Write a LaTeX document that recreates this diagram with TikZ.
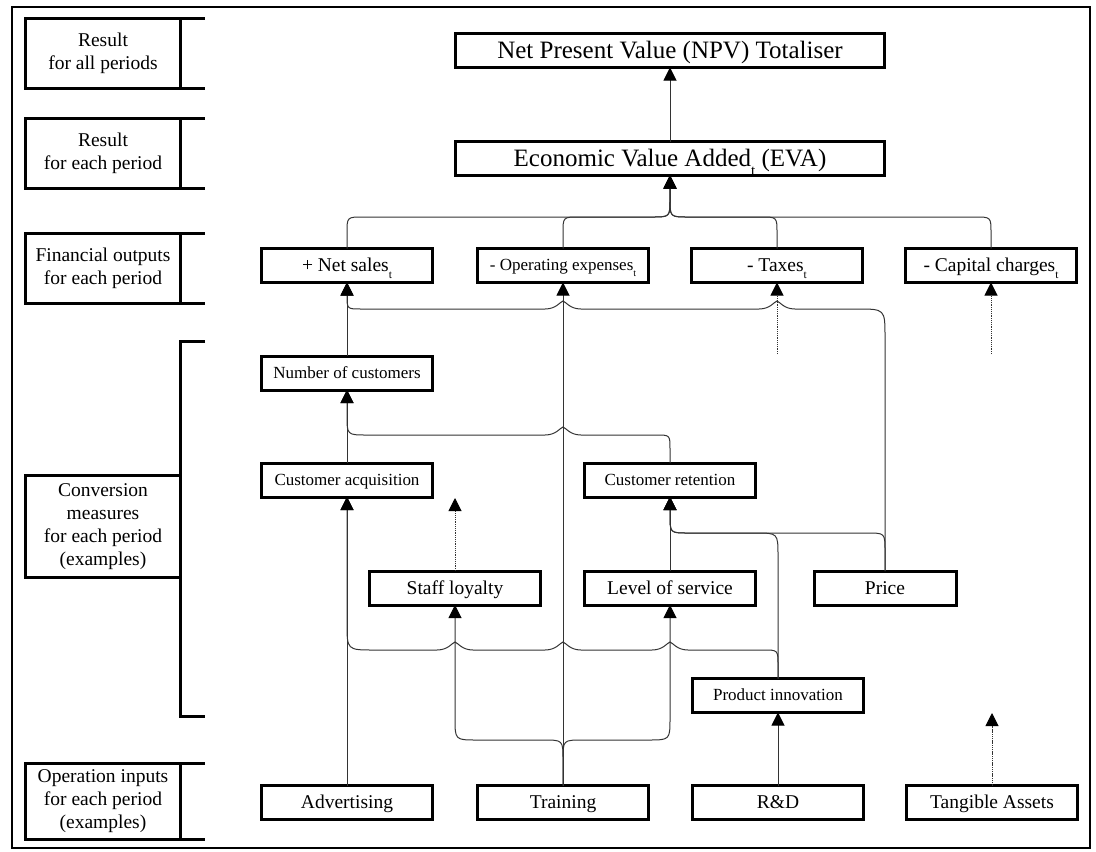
\documentclass[tikz,border=0pt]{standalone}
\usepackage{fontspec}
\setmainfont{Liberation Serif}
\usetikzlibrary{arrows.meta,calc}
\newcommand\jumpL[2]{-- ({#1+18},#2) .. controls ({#1+7},#2) and ({#1+3},{#2-7}) .. (#1,{#2-8}) .. controls ({#1-3},{#2-7}) and ({#1-7},#2) .. ({#1-18},#2)}
\newcommand\subt[2]{\raisebox{-#2pt}{\fontsize{#1}{#1}\selectfont t}}
\tikzset{
 base/.style={draw, line width=3pt, inner sep=0pt, outer sep=0pt, align=center,
   minimum width=171pt, minimum height=34pt},
 box/.style={base, font=\fontsize{19.5}{23}\selectfont, text height=12.5pt, text depth=0pt},
 sbox/.style={base, font=\fontsize{17}{20}\selectfont, text height=10.5pt, text depth=0pt},
 bbox/.style={base, minimum width=429pt, font=\fontsize{25}{29}\selectfont, text height=16.5pt, text depth=0pt},
 lbox/.style={base, minimum width=155pt, minimum height=70pt, font=\fontsize{19.5}{23}\selectfont},
 thickline/.style={line width=3pt},
 conn/.style={line width=1pt, draw=black!80},
 arr/.style={conn, -{Triangle[length=13pt,width=13pt,color=black]}},
 dotarr/.style={arr, dash pattern=on 1.3pt off 0.9pt},
}
\begin{document}
\begin{tikzpicture}[x=1pt,y=-1pt]
\useasboundingbox (0,0) rectangle (1096,852);
\draw[line width=1.3pt] (12,7) rectangle (1090,848);

% left labels
\node[lbox] (l1) at (103,53.5) {Result\\for all periods};
\node[lbox] (l2) at (103,153.5) {Result\\for each period};
\node[lbox] (l3) at (103,268.5) {Financial outputs\\for each period};
\node[lbox, minimum height=102pt] (l4) at (103,526.5) {Conversion\\measures\\for each period\\(examples)};
\node[lbox, minimum height=76pt] (l5) at (103,801.5) {Operation inputs\\for each period\\(examples)};
\foreach \n in {l1,l2,l3,l5}{
  \draw[thickline] (\n.north east) -- ++(24,0);
  \draw[thickline] (\n.south east) -- ++(24,0);
}
\draw[thickline] (205,341.5) -- (180.5,341.5) -- (180.5,716.5) -- (205,716.5);

% boxes
\node[bbox] (npv) at (670,50.5) {Net Present Value (NPV) Totaliser};
\node[bbox] (eva) at (670,158.5) {Economic Value Added\subt{15}{9} (EVA)};
\node[box] (ns) at (347,265.5) {+ Net sales\subt{11.5}{7}};
\node[sbox] (ope) at (563,265.5) {- Operating expenses\subt{10}{5.5}};
\node[box] (tax) at (777,265.5) {- Taxes\subt{11.5}{7}};
\node[box] (cap) at (991,265.5) {- Capital charges\subt{11.5}{7}};
\node[sbox] (noc) at (347,373) {Number of customers};
\node[sbox] (ca) at (347,480) {Customer acquisition};
\node[sbox] (cr) at (670,480) {Customer retention};
\node[box] (sl) at (455,588) {Staff loyalty};
\node[box] (los) at (670,588) {Level of service};
\node[box, minimum width=142pt] (price) at (885,588) {Price};
\node[sbox] (pi) at (778,695.5) {Product innovation};
\node[box] (adv) at (347,802.5) {Advertising};
\node[box] (tr) at (563,802.5) {Training};
\node[box] (rd) at (778,802.5) {R\&D};
\node[box] (tan) at (992,802.5) {Tangible Assets};

\coordinate (taxin) at (777,354);
\coordinate (capin) at (991,354);
\coordinate (slout) at (455,498);
\coordinate (tanout) at (992,713);

% EVA -> NPV
\draw[arr] (eva.north) -- (npv.south);
% financial outputs -> EVA
\draw[arr] (ns.north) -- (347,233) .. controls (347,217) .. (363,217) -- (652,217) .. controls (670,217) .. (670,199) -- (eva.south);
\draw[arr] (ope.north) -- (563,233) .. controls (563,217) .. (579,217) -- (652,217) .. controls (670,217) .. (670,199) -- (eva.south);
\draw[arr] (tax.north) -- (777,233) .. controls (777,217) .. (761,217) -- (688,217) .. controls (670,217) .. (670,199) -- (eva.south);
\draw[arr] (cap.north) -- (991,233) .. controls (991,217) .. (975,217) -- (688,217) .. controls (670,217) .. (670,199) -- (eva.south);

% into net sales
\draw[arr] (noc.north) -- (ns.south);
\draw[arr] (price.north) -- (885,337) .. controls (885,309) .. (857,309) \jumpL{777}{309} \jumpL{563}{309} -- (361,309) .. controls (347,309) .. (347,295) -- (ns.south);
% into op expenses, taxes, capital charges
\draw[arr] (tr.north) -- (ope.south);
\draw[dotarr] (taxin) -- (tax.south);
\draw[dotarr] (capin) -- (cap.south);

% into number of customers
\draw[arr] (ca.north) -- (noc.south);
\draw[arr] (cr.north) -- (670,449) .. controls (670,435) .. (656,435) \jumpL{563}{435} -- (367,435) .. controls (347,435) .. (347,415) -- (noc.south);

% into customer acquisition
\draw[arr] (adv.north) -- (ca.south);
\draw[arr] (pi.north) -- (778,665) .. controls (778,650) .. (763,650) \jumpL{670}{650} \jumpL{563}{650} \jumpL{455}{650} -- (374,650) .. controls (347,650) .. (347,623) -- (ca.south);
\draw[dotarr] (sl.north) -- (slout);

% into customer retention
\draw[arr] (los.north) -- (cr.south);
\draw[arr] (pi.north) -- (778,556) .. controls (778,533) .. (755,533) -- (688,533) .. controls (670,533) .. (670,515) -- (cr.south);
\draw[arr] (price.north) -- (885,551) .. controls (885,533) .. (867,533) -- (688,533) .. controls (670,533) .. (670,515) -- (cr.south);

% training
\draw[arr] (tr.north) -- (563,760) .. controls (563,740) .. (543,740) -- (477,740) .. controls (455,740) .. (455,718) -- (sl.south);
\draw[arr] (tr.north) -- (563,760) .. controls (563,740) .. (583,740) -- (648,740) .. controls (670,740) .. (670,718) -- (los.south);

% R&D, tangible assets
\draw[arr] (rd.north) -- (pi.south);
\draw[dotarr] (tan.north) -- (tanout);
\end{tikzpicture}
\end{document}
